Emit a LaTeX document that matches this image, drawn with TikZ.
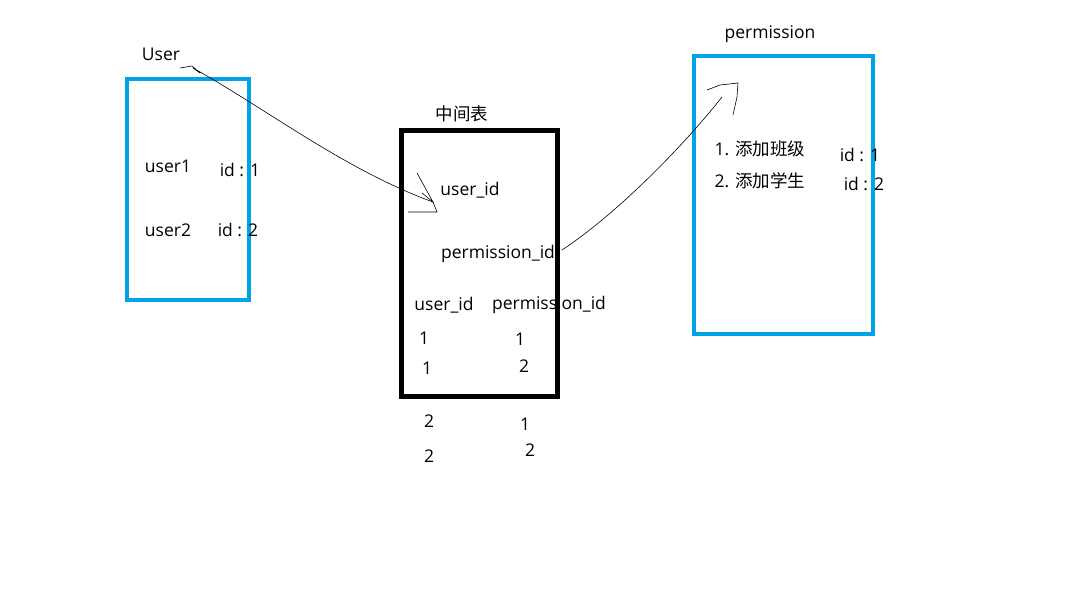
\documentclass[tikz,border=0pt]{standalone}
\usepackage{fontspec}
\setmainfont{Open Sans}
\newfontfamily\cjk{Noto Sans CJK SC}
\usetikzlibrary{positioning}

\definecolor{paintblue}{RGB}{0,162,232}

\begin{document}
\begin{tikzpicture}[
  x=1pt, y=-1pt,
  bluebox/.style  = {draw=paintblue, line width=4pt},
  blackbox/.style = {draw=black, line width=5pt},
  label/.style    = {inner sep=0pt, font=\fontsize{17.5}{21}\selectfont},
  pen/.style      = {draw=black, line width=0.6pt},
]
  \useasboundingbox[fill=white] (0,0) rectangle (1079,606);

  % tables
  \draw[bluebox]  (127,79)  rectangle (249,300);
  \draw[blackbox] (401,130) rectangle (557,396);
  \draw[bluebox]  (694,56)  rectangle (873,334);

  % User
  \node[label] (usr)   at (161,54)  {User};
  \node[label] (u1)    at (168,166) {user1};
  \node[label] (u1id)  at (240,170) {id : 1};
  \node[label] (u2)    at (168,230) {user2};
  \node[label] (u2id)  at (238,230) {id : 2};

  % middle table
  \node[label] (mid)   at (462,114) {\cjk 中间表};
  \node[label] (muid)  at (470,190) {user\_id};
  \node[label] (mpid)  at (498,254) {permission\_id};
  \node[label] (huid)  at (444,305) {user\_id};
  \node[label] (hpid)  at (549,305) {permission\_id};
  \node[label] (r1a)   at (424,338) {1};
  \node[label] (r1b)   at (520,339) {1};
  \node[label] (r2a)   at (427,368) {1};
  \node[label] (r2b)   at (524,366) {2};
  \node[label] (r3a)   at (429,421) {2};
  \node[label] (r3b)   at (525,424) {1};
  \node[label] (r4a)   at (429,456) {2};
  \node[label] (r4b)   at (530,450) {2};

  % permission
  \node[label] (perm)  at (770,34)  {permission};
  \node[label] (p1)    at (760,149) {1. \cjk 添加班级};
  \node[label] (p2)    at (760,181) {2. \cjk 添加学生};
  \node[label] (p1id)  at (860,155) {id : 1};
  \node[label] (p2id)  at (864,184) {id : 2};

  % hand drawn arrows
  \coordinate (a1s) at (180,68);
  \coordinate (a1e) at (433,202);
  \coordinate (a2s) at (562,250);
  \coordinate (a2e) at (722,97);

  \draw[pen] (a1s) -- (192,66) -- (200,73) -- (193,68)
             .. controls (265,108) and (345,170) .. (a1e);
  \draw[pen] (417,173) -- (a1e) -- (422,193);
  \draw[pen] (a1e) -- (437,212) -- (408,212);

  \draw[pen] (a2s) .. controls (615,215) and (680,150) .. (a2e);
  \draw[pen] (707,90) -- (720,85) -- (738,83) -- (737,97) -- (733,115);
\end{tikzpicture}
\end{document}
